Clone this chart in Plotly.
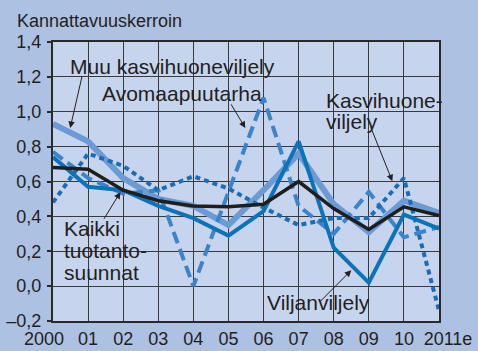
import plotly.graph_objects as go

# Years and axis labels (en spaces nudge the first and last label outward)
years = list(range(2000, 2012))
year_labels = ["2000\u2002\u2002", "01", "02", "03", "04", "05", "06", "07", "08", "09", "10",
               "\u2002\u20022011e"]
y_ticks = [-0.2, 0.0, 0.2, 0.4, 0.6, 0.8, 1.0, 1.2, 1.4]
y_tick_labels = ["\u20130,2", "0,0", "0,2", "0,4", "0,6", "0,8", "1,0", "1,2", "1,4"]

# Kannattavuuskerroin by production line
muu_kasvihuone = [0.93, 0.83, 0.62, 0.50, 0.46, 0.35, 0.55, 0.76, 0.47, 0.31, 0.49, 0.42]
avomaapuutarha = [0.77, 0.62, 0.53, 0.55, 0.00, 0.54, 1.08, 0.46, 0.30, 0.54, 0.28, 0.34]
kasvihuone = [0.48, 0.76, 0.69, 0.55, 0.63, 0.56, 0.45, 0.35, 0.39, 0.39, 0.62, -0.14]
viljanviljely = [0.74, 0.57, 0.55, 0.46, 0.39, 0.29, 0.43, 0.83, 0.22, 0.02, 0.41, 0.33]
kaikki = [0.68, 0.67, 0.55, 0.49, 0.46, 0.455, 0.47, 0.60, 0.445, 0.325, 0.455, 0.405]

FONT = "Liberation Sans, Arial, sans-serif"
INK = "#231f20"

fig = go.Figure()
series = [
    ("Muu kasvihuoneviljely", muu_kasvihuone, "#6b9bd4", 6, "solid"),
    ("Avomaapuutarha", avomaapuutarha, "#3a84cb", 4, "12px,6px"),
    ("Kasvihuoneviljely", kasvihuone, "#1c6cb5", 4, "5px,4px"),
    ("Viljanviljely", viljanviljely, "#0c72b9", 4, "solid"),
    ("Kaikki tuotantosuunnat", kaikki, "#1e1e1e", 3.5, "solid"),
]
for name, vals, color, width, dash in series:
    fig.add_trace(go.Scatter(x=years, y=vals, mode="lines", name=name,
                             line=dict(color=color, width=width, dash=dash),
                             showlegend=False, hoverinfo="skip"))

# Series labels (one annotation per text line)
labels = [
    ("Muu kasvihuoneviljely", 2000.436, 1.261),
    ("Avomaapuutarha", 2001.35, 1.106),
    ("Kasvihuone-", 2007.73, 1.065),
    ("viljely", 2007.73, 0.943),
    ("Kaikki", 2000.265, 0.329),
    ("tuotanto-", 2000.265, 0.203),
    ("suunnat", 2000.265, 0.076),
    ("Viljanviljely", 2006.05, -0.096),
]
annotations = []
for text, x, y in labels:
    annotations.append(dict(text=text, x=x, y=y, xref="x", yref="y",
                            xanchor="left", yanchor="middle", showarrow=False,
                            font=dict(family=FONT, size=21, color=INK)))

# Leader arrows: (head x, head y, tail x, tail y)
arrows = [
    (2000.49, 0.907, 2000.835, 1.21),
    (2005.48, 0.907, 2005.05, 1.051),
    (2009.67, 0.602, 2009.04, 0.919),
    (2001.92, 0.539, 2001.43, 0.378),
    (2008.50, 0.091, 2007.56, -0.099),
]
for hx, hy, tx, ty in arrows:
    annotations.append(dict(text="", x=hx, y=hy, ax=tx, ay=ty, xref="x", yref="y",
                            axref="x", ayref="y", showarrow=True, arrowhead=2,
                            arrowsize=1.3, arrowwidth=1, arrowcolor=INK))

annotations.append(dict(text="Kannattavuuskerroin", x=-0.0984, y=1.077,
                        xref="paper", yref="paper", xanchor="left", yanchor="middle",
                        showarrow=False, font=dict(family=FONT, size=18, color=INK)))

fig.update_layout(
    width=478, height=351,
    margin=dict(l=53, r=39, t=42, b=30, pad=0),
    paper_bgcolor="#adc1e2",
    plot_bgcolor="#c7d4ed",
    font=dict(family=FONT, size=18, color=INK),
    annotations=annotations,
    template="none",
)
fig.update_xaxes(range=[2000, 2011], tickmode="array", tickvals=years, ticktext=year_labels,
                 tickangle=0,
                 showgrid=True, gridcolor="#3a3a3a", gridwidth=1.3,
                 showline=True, linecolor="#2a2a2a", linewidth=2, mirror=True,
                 ticks="", zeroline=False, automargin=False, ticklabelstandoff=0,
                 tickfont=dict(family=FONT, size=18, color=INK))
fig.update_yaxes(range=[-0.2, 1.4], tickmode="array", tickvals=y_ticks, ticktext=y_tick_labels,
                 showgrid=True, gridcolor="#3a3a3a", gridwidth=1.3,
                 showline=True, linecolor="#2a2a2a", linewidth=2, mirror=True,
                 ticks="outside", ticklen=4, tickcolor="#2a2a2a", tickwidth=1.5,
                 zeroline=False, automargin=False, ticklabelstandoff=2,
                 tickfont=dict(family=FONT, size=18, color=INK))

fig.write_html("out.html")
